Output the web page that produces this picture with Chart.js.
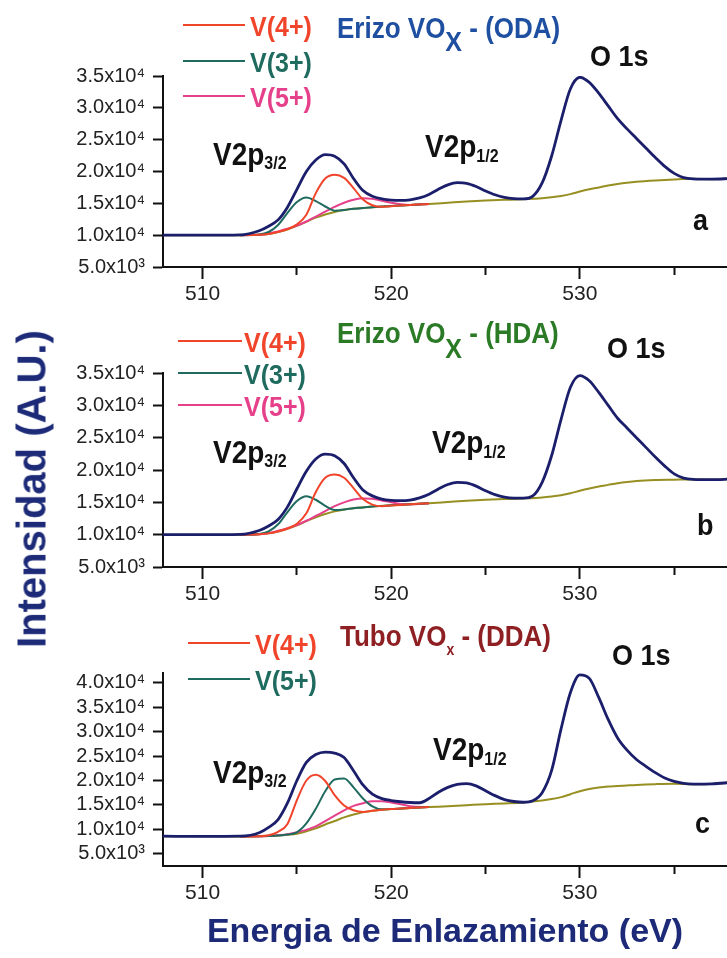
<!DOCTYPE html>
<html>
<head>
<meta charset="utf-8">
<script src="https://cdn.jsdelivr.net/npm/chart.js@4.4.1/dist/chart.umd.min.js"></script>
<style>
  html, body { margin: 0; padding: 0; background: #fff; }
  #fig { position: relative; width: 727px; height: 958px; overflow: hidden; background: #fff; }
  #fig canvas { position: absolute; left: 0; }
  #ytitle {
    position: absolute; left: 32px; top: 489px;
    transform: translate(-50%, -50%) rotate(-90deg);
    font: bold 40px "Liberation Sans", Arial, sans-serif;
    color: #1c2a78; white-space: nowrap;
  }
</style>
</head>
<body>
<div id="fig">
  <canvas id="chartA" width="727" height="305" style="top:0"></canvas>
  <canvas id="chartB" width="727" height="305" style="top:305px"></canvas>
  <canvas id="chartC" width="727" height="348" style="top:610px"></canvas>
  <div id="ytitle">Intensidad (A.U.)</div>
</div>
<script>
// energy grids (eV)
const energyEnv = [507.9, 510, 512, 513, 513.5, 514, 514.5, 515, 515.5, 516, 516.5, 517, 517.5, 518, 518.5, 519, 519.5, 520, 520.5, 521, 521.5, 522, 522.5, 523, 523.5, 524, 524.5, 525, 525.5, 526, 526.5, 527, 527.5, 528, 528.5, 529, 529.5, 530, 530.5, 531, 531.5, 532, 532.5, 533, 533.5, 534, 534.5, 535, 535.5, 536, 537, 538];
const energyBase = [507.9, 512, 513, 513.5, 514, 514.5, 515, 515.5, 516, 516.5, 517, 517.5, 518, 519, 520, 521, 522, 523, 524, 525, 526, 527, 528, 528.5, 529, 529.5, 530, 530.5, 531, 531.5, 532, 532.5, 533, 534, 535, 536, 537, 538];
const energyComp = [512, 513, 513.5, 514, 514.5, 515, 515.5, 516, 516.5, 517, 517.5, 518, 518.5, 519, 519.5, 520, 520.5, 521, 522];

// panel a - Erizo VOx (ODA)
const envA = [10000, 10000, 10050, 10700, 11400, 12400, 14400, 17200, 20000, 21800, 22650, 22400, 21200, 18900, 17000, 16100, 15700, 15500, 15450, 15550, 15850, 16400, 17200, 17900, 18250, 18150, 17650, 16950, 16350, 15950, 15750, 15700, 16100, 18200, 22400, 28000, 33000, 34800, 34000, 32300, 30300, 28300, 26700, 25200, 23700, 22200, 20800, 19700, 19050, 18850, 18800, 18900];
const baseA = [10000, 10000, 10050, 10200, 10500, 10900, 11450, 12100, 12750, 13250, 13650, 13950, 14150, 14400, 14600, 14750, 14900, 15100, 15300, 15450, 15550, 15650, 15800, 15950, 16150, 16450, 16850, 17200, 17500, 17800, 18050, 18250, 18400, 18600, 18750, 18850, 18800, 18900];
const v4A = [10000, 10050, 10200, 10500, 10950, 11700, 13200, 16600, 18900, 19500, 19000, 17400, 15600, 14700, 14450, 14550, 14650, 14750, 14900];
const v3A = [10000, 10100, 10500, 11600, 13500, 15200, 15900, 15350, 14500, 13850, 13950, 14150, 14250, 14400, 14500, 14600, 14650, 14750, 14900];
const v5A = [10000, 10050, 10250, 10600, 11000, 11500, 12150, 12900, 13700, 14450, 15100, 15550, 15800, 15700, 15400, 15100, 14850, 14750, 14900];

// panel b - Erizo VOx (HDA)
const envB = [10000, 10000, 10050, 10650, 11350, 12350, 14300, 17100, 19800, 21700, 22450, 22200, 21000, 18800, 16900, 16000, 15500, 15300, 15250, 15350, 15700, 16250, 17050, 17750, 18100, 18000, 17500, 16800, 16200, 15800, 15650, 15650, 16000, 18100, 22200, 27800, 32800, 34600, 33800, 32000, 30000, 28000, 26500, 25000, 23500, 22000, 20600, 19400, 18750, 18550, 18500, 18600];
const baseB = [10000, 10000, 10050, 10200, 10500, 10900, 11450, 12100, 12700, 13200, 13600, 13900, 14100, 14350, 14550, 14700, 14850, 15050, 15250, 15400, 15500, 15600, 15750, 15900, 16100, 16400, 16800, 17150, 17450, 17700, 17950, 18150, 18300, 18450, 18500, 18550, 18500, 18600];
const v4B = [10000, 10050, 10200, 10500, 10950, 11700, 13300, 16600, 18800, 19300, 18800, 17200, 15500, 14650, 14400, 14500, 14600, 14700, 14850];
const v3B = [10000, 10100, 10500, 11600, 13500, 15200, 15950, 15400, 14450, 13800, 13900, 14100, 14200, 14350, 14450, 14550, 14600, 14700, 14850];
const v5B = [10000, 10050, 10250, 10600, 11000, 11500, 12150, 12900, 13650, 14400, 15000, 15450, 15600, 15550, 15300, 15000, 14750, 14700, 14850];

// panel c - Tubo VOx (DDA)
const envC = [8600, 8550, 8600, 9300, 10400, 12000, 15400, 20000, 23700, 25300, 25800, 25600, 24700, 22000, 19100, 17200, 16300, 15900, 15650, 15500, 15450, 16300, 17600, 18600, 19200, 19350, 18900, 17900, 16900, 16100, 15700, 15550, 15850, 17500, 22000, 30500, 38000, 41600, 40900, 37000, 32500, 28700, 26200, 24300, 22900, 21600, 20500, 19800, 19400, 19250, 19300, 19600];
const baseC = [8600, 8550, 8600, 8650, 8750, 8900, 9100, 9600, 10200, 11000, 11700, 12450, 13050, 13800, 14150, 14350, 14550, 14750, 14950, 15150, 15300, 15500, 15900, 16200, 16600, 17200, 17800, 18250, 18550, 18750, 18850, 18980, 19100, 19250, 19330, 19250, 19300, 19600];
const v4C = [8550, 8600, 8800, 9500, 11100, 16000, 20000, 21150, 19900, 17000, 14900, 13900, 13550, 13800, 14000, 14150, 14250, 14350, 14550];
const v5C = [8550, 8600, 8650, 8750, 8950, 9400, 11200, 14200, 17800, 20200, 20400, 18600, 16300, 14700, 14100, 14150, 14250, 14350, 14550];
const extraC = [8550, 8600, 8650, 8800, 9000, 9400, 9900, 10600, 11700, 12800, 13900, 14800, 15350, 15750, 15750, 15500, 15150, 14750, 14550];

// axis ticks
const xTicks = [510, 515, 520, 525, 530, 535];
const yTicksAB = [5000, 7500, 10000, 12500, 15000, 17500, 20000, 22500, 25000, 27500, 30000, 32500, 35000];
const yTicksC = [5000, 7500, 10000, 12500, 15000, 17500, 20000, 22500, 25000, 27500, 30000, 32500, 35000, 37500, 40000];

const FONT = '"Liberation Sans", Arial, Helvetica, sans-serif';
const NAVY = '#1b1f6b', RED = '#f0452b', TEAL = '#1f6b5f', PINK = '#e6408a', OLIVE = '#988f22';
const X_MIN = 507.9, X_MAX = 537.8;

Chart.defaults.font.family = FONT;

function pts(xs, ys) {
  return xs.map((x, i) => ({ x: x, y: ys[i] }));
}

function curve(label, xs, ys, color, width, inLegend) {
  return {
    label: label,
    data: pts(xs, ys),
    borderColor: color,
    borderWidth: width,
    pointRadius: 0,
    fill: false,
    cubicInterpolationMode: 'monotone',
    inLegend: !!inLegend
  };
}

// "3.5x10⁴" style labels
function sci(v) {
  const e = Math.floor(Math.log10(v));
  const m = v / Math.pow(10, e);
  return m.toFixed(1) + 'x10' + (e === 4 ? '\u2074' : '\u00b3');
}

// text with sub/superscript parts, slightly stretched like the original scan
function drawRich(ctx, x, y, parts, color) {
  ctx.save();
  ctx.translate(x, y);
  ctx.scale(1, 1.12);
  ctx.fillStyle = color;
  ctx.textBaseline = 'alphabetic';
  let cx = 0;
  parts.forEach(p => {
    ctx.font = 'bold ' + p[1] + 'px ' + FONT;
    ctx.fillText(p[0], cx, (p[2] || 0) / 1.12);
    cx += ctx.measureText(p[0]).width;
  });
  ctx.restore();
}

const annotate = {
  id: 'annotate',
  afterDraw(chart, args, opts) {
    const ctx = chart.ctx;
    const lg = opts.legend;
    chart.data.datasets.filter(d => d.inLegend).forEach((d, i) => {
      const y = lg.ys[i];
      ctx.save();
      ctx.strokeStyle = d.borderColor;
      ctx.lineWidth = 2;
      ctx.beginPath();
      ctx.moveTo(lg.x, y);
      ctx.lineTo(lg.x + lg.len, y);
      ctx.stroke();
      ctx.restore();
      drawRich(ctx, lg.tx, y + 11, [[d.label, 25, 0]], d.borderColor);
    });
    opts.texts.forEach(t => drawRich(ctx, t.x, t.y, t.parts, t.color || '#111'));
  }
};

function makePanel(id, p) {
  return new Chart(document.getElementById(id), {
    type: 'line',
    data: { datasets: p.datasets },
    options: {
      responsive: false,
      animation: false,
      events: [],
      layout: { padding: { top: p.top, left: 0, right: 0, bottom: 0 } },
      plugins: {
        legend: { display: false },
        tooltip: { enabled: false },
        annotate: { legend: p.legend, texts: p.texts }
      },
      scales: {
        x: {
          type: 'linear',
          min: X_MIN,
          max: X_MAX,
          afterBuildTicks: s => { s.ticks = xTicks.map(v => ({ value: v })); },
          afterFit: s => { s.height = p.axisH; },
          ticks: {
            autoSkip: false, maxRotation: 0, padding: 3, color: '#222',
            font: { size: 21 },
            callback: v => (v % 10 === 0 ? String(v) : '')
          },
          grid: {
            drawOnChartArea: false, tickLength: 12, tickWidth: 2, tickColor: '#111',
            tickBorderDash: c => (c.tick && c.tick.value % 10 !== 0 ? [7, 100] : [])
          },
          border: { color: '#111', width: 2 },
          title: p.xTitle || { display: false }
        },
        y: {
          type: 'linear',
          min: p.yMin,
          max: p.yMax,
          afterBuildTicks: s => { s.ticks = p.yTicks.map(v => ({ value: v })); },
          afterFit: s => { s.width = 163; },
          ticks: {
            padding: 8, color: '#222',
            font: { size: 20 },
            callback: v => (v % 5000 === 0 ? sci(v) : '')
          },
          grid: {
            drawOnChartArea: false, tickLength: 10, tickWidth: 2, tickColor: '#111',
            tickBorderDash: c => (c.tick && c.tick.value % 5000 !== 0 ? [0, 4, 6, 100] : [])
          },
          border: { color: '#111', width: 2 }
        }
      }
    },
    plugins: [annotate]
  });
}

makePanel('chartA', {
  top: 76, axisH: 38, yMin: 5000, yMax: 35000, yTicks: yTicksAB,
  datasets: [
    curve('Envolvente', energyEnv, envA, NAVY, 2.8),
    curve('V(4+)', energyComp, v4A, RED, 2, true),
    curve('V(3+)', energyComp, v3A, TEAL, 2, true),
    curve('V(5+)', energyComp, v5A, PINK, 2, true),
    curve('Fondo', energyBase, baseA, OLIVE, 2)
  ],
  legend: { x: 183, len: 62, tx: 250, ys: [25, 61, 96] },
  texts: [
    { x: 337, y: 38, color: '#1f4fa0', parts: [['Erizo VO', 26], ['X', 25, 13], [' - (ODA)', 26]] },
    { x: 213, y: 165, parts: [['V2p', 28], ['3/2', 16, 4]] },
    { x: 425, y: 157, parts: [['V2p', 28], ['1/2', 16, 5]] },
    { x: 590, y: 66, parts: [['O 1s', 27]] },
    { x: 693, y: 230, parts: [['a', 27]] }
  ]
});

makePanel('chartB', {
  top: 68, axisH: 43, yMin: 5000, yMax: 35000, yTicks: yTicksAB,
  datasets: [
    curve('Envolvente', energyEnv, envB, NAVY, 2.8),
    curve('V(4+)', energyComp, v4B, RED, 2, true),
    curve('V(3+)', energyComp, v3B, TEAL, 2, true),
    curve('V(5+)', energyComp, v5B, PINK, 2, true),
    curve('Fondo', energyBase, baseB, OLIVE, 2)
  ],
  legend: { x: 178, len: 64, tx: 244, ys: [36, 68, 100] },
  texts: [
    { x: 337, y: 38, color: '#2a7a26', parts: [['Erizo VO', 26], ['X', 25, 15], [' - (HDA)', 26]] },
    { x: 213, y: 158, parts: [['V2p', 28], ['3/2', 16, 4]] },
    { x: 432, y: 148, parts: [['V2p', 28], ['1/2', 16, 5]] },
    { x: 607, y: 53, parts: [['O 1s', 27]] },
    { x: 697, y: 230, parts: [['b', 27]] }
  ]
});

makePanel('chartC', {
  top: 63, axisH: 92, yMin: 2500, yMax: 42000, yTicks: yTicksC,
  datasets: [
    curve('Envolvente', energyEnv, envC, NAVY, 2.8),
    curve('V(4+)', energyComp, v4C, RED, 2, true),
    curve('V(5+)', energyComp, v5C, TEAL, 2, true),
    curve('Componente', energyComp, extraC, PINK, 2),
    curve('Fondo', energyBase, baseC, OLIVE, 2)
  ],
  legend: { x: 188, len: 62, tx: 255, ys: [33, 69] },
  texts: [
    { x: 340, y: 36, color: '#8e1f22', parts: [['Tubo VO', 26], ['x', 14, 9], [' - (DDA)', 26]] },
    { x: 213, y: 173, parts: [['V2p', 28], ['3/2', 16, 4]] },
    { x: 433, y: 150, parts: [['V2p', 28], ['1/2', 16, 5]] },
    { x: 612, y: 55, parts: [['O 1s', 27]] },
    { x: 695, y: 223, parts: [['c', 27]] }
  ],
  xTitle: {
    display: true,
    text: 'Energia de Enlazamiento (eV)',
    color: '#1c2a78',
    font: { size: 34, weight: 'bold' },
    padding: { top: 0, bottom: 5 }
  }
});
</script>
</body>
</html>
